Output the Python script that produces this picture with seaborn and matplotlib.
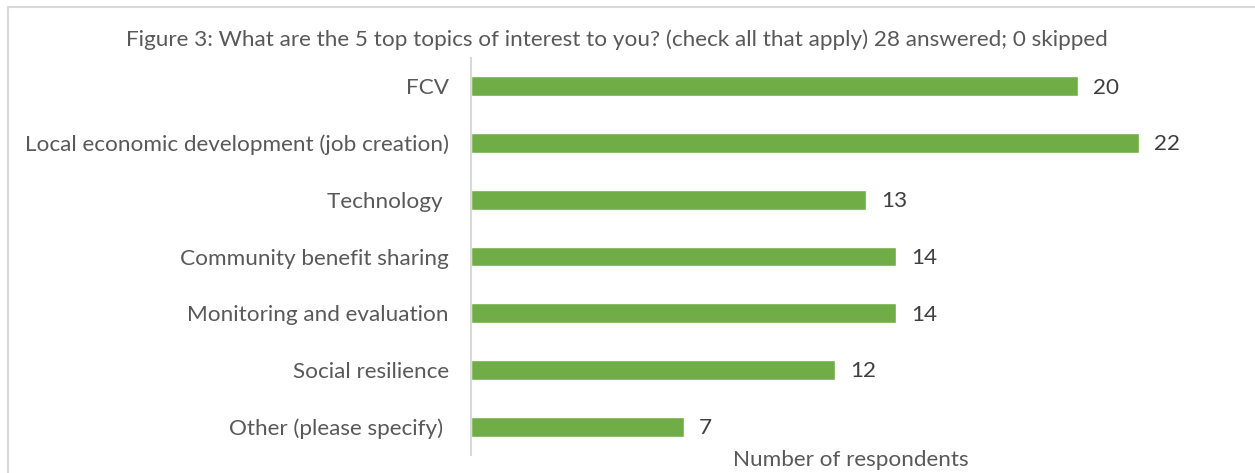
import matplotlib
matplotlib.use("Agg")
import matplotlib.pyplot as plt
import matplotlib.patches as patches
import pandas as pd
import seaborn as sns

# Survey answers
topics = [
    "FCV",
    "Local economic development (job creation)",
    "Technology ",
    "Community benefit sharing",
    "Monitoring and evaluation",
    "Social resilience",
    "Other (please specify) ",
]
counts = [20, 22, 13, 14, 14, 12, 7]

title = "Figure 3: What are the 5 top topics of interest to you? (check all that apply) 28 answered; 0 skipped"
xlabel = "Number of respondents"

sns.set_style("white")
plt.rcParams["font.family"] = ["Lato", "DejaVu Sans"]

df = pd.DataFrame({"topic": topics, "count": counts})

fig = plt.figure(figsize=(12.55, 4.73), dpi=100)
ax = fig.add_axes([471 / 1255, 1 - 455 / 473, (1230 - 471) / 1255, (455 - 58) / 473])

sns.barplot(data=df, x="count", y="topic", orient="h", color="#70AD47",
            saturation=1, width=0.35, ax=ax)

ax.set_xlim(0, 25)
ax.set_ylim(6.5, -0.5)
ax.set_xticks([])
ax.set_xlabel("")
ax.set_ylabel("")
ax.tick_params(axis="y", length=0, pad=16, labelsize=16.2, labelcolor="#595959")

for side in ["top", "right", "bottom"]:
    ax.spines[side].set_visible(False)
ax.spines["left"].set_color("#d9d9d9")
ax.spines["left"].set_linewidth(1.5)

# value labels at the end of each bar
for i, v in enumerate(counts):
    ax.annotate(str(v), (v, i), xytext=(11, -1), textcoords="offset points",
                va="center", ha="left", fontsize=16.2, color="#404040")

ax.text(0.5, -0.013, xlabel, transform=ax.transAxes, ha="center", va="center",
        fontsize=16.2, color="#595959")

fig.text(617 / 1255, 1 - 40 / 473, title, ha="center", va="center",
         fontsize=16.2, color="#595959")

# light frame around the chart area
fig.patches.append(patches.Rectangle((8 / 1255, -0.1), 1.2, 1.1 - 7 / 473,
                                     transform=fig.transFigure, fill=False,
                                     edgecolor="#d9d9d9", linewidth=1.5))

fig.savefig("out.png", dpi=100)
